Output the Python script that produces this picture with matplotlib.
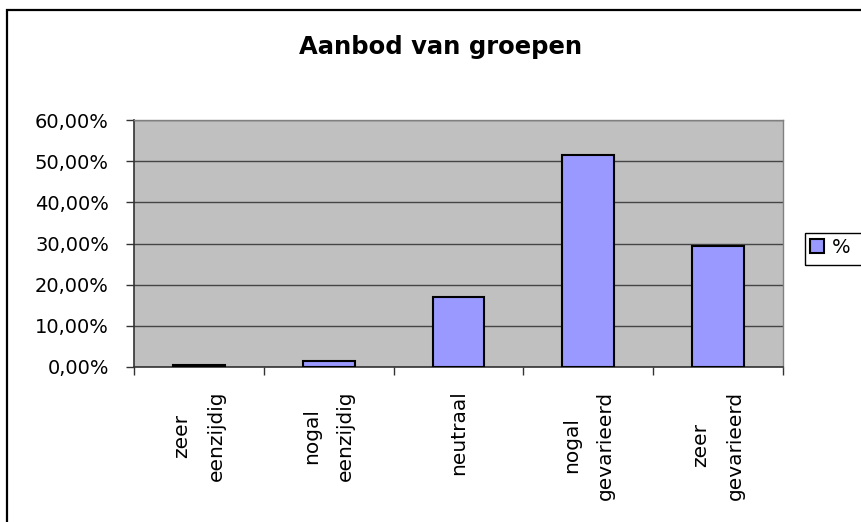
import numpy as np
import matplotlib
matplotlib.use("Agg")
import matplotlib.pyplot as plt
from matplotlib.patches import Rectangle
from matplotlib.ticker import FuncFormatter

# Gegevens
categorieen = ["zeer\neenzijdig", "nogal\neenzijdig", "neutraal",
               "nogal\ngevarieerd", "zeer\ngevarieerd"]
percentages = [0.4, 1.4, 17.0, 51.5, 29.5]
reeks_naam = "%"
titel = "Aanbod van groepen"

W, H = 862, 522


def procent(v, pos):
    return f"{v:.2f}%".replace(".", ",")


def main():
    fig = plt.figure(figsize=(W / 100, H / 100), dpi=100)
    ax = fig.add_axes([134 / W, 1 - 367 / H, (783 - 134) / W, (367 - 120) / H])
    ax.set_facecolor("#c0c0c0")

    x = np.arange(len(categorieen))
    ax.bar(x, percentages, width=0.4, color="#9999ff", edgecolor="black",
           linewidth=1.5, label=reeks_naam, zorder=3)

    ax.set_xlim(-0.5, len(categorieen) - 0.5)
    ax.set_ylim(0, 60)
    ax.set_yticks(np.arange(0, 61, 10))
    ax.yaxis.set_major_formatter(FuncFormatter(procent))
    ax.yaxis.grid(True, color="#454545", linewidth=1.0, zorder=1)
    ax.set_axisbelow(True)

    # grensstreepjes tussen de categorieën, labels in het midden
    ax.set_xticks(np.arange(-0.5, len(categorieen), 1.0))
    ax.set_xticklabels([])
    ax.set_xticks(x, minor=True)
    ax.set_xticklabels(categorieen, minor=True, rotation=90, ha="center",
                       va="top", multialignment="center", linespacing=2.0)
    ax.tick_params(axis="x", which="major", direction="out", length=6,
                   width=1, color="#333333")
    ax.tick_params(axis="x", which="minor", length=0, pad=17, labelsize=14.5)
    ax.tick_params(axis="y", direction="out", length=6, width=1,
                   color="#333333", pad=12, labelsize=14)

    for kant in ["top", "right"]:
        ax.spines[kant].set_color("#808080")
        ax.spines[kant].set_linewidth(1.0)
    for kant in ["left", "bottom"]:
        ax.spines[kant].set_color("#333333")
        ax.spines[kant].set_linewidth(1.2)

    fig.text(441 / W, 1 - 54 / H, titel, ha="center", va="baseline",
             fontsize=17.5, fontweight="bold")

    # legenda; het kader loopt over de rechterrand door
    leg = fig.legend(loc="upper left", bbox_to_anchor=(808 / W, 1 - 236 / H),
                     fontsize=14, frameon=False,
                     handlelength=0.7, handleheight=0.7, handletextpad=0.45,
                     borderpad=0.1, borderaxespad=0)
    fig.add_artist(Rectangle((805 / W, 1 - 265 / H), 100 / W, 32 / H,
                             transform=fig.transFigure, fill=False,
                             edgecolor="black", linewidth=1.0))

    # rand van de grafiek
    fig.add_artist(Rectangle((7 / W, -0.1), 1.2, 1 - 10 / H + 0.1,
                             transform=fig.transFigure, fill=False,
                             edgecolor="black", linewidth=1.6))

    fig.savefig("out.png", dpi=100)


if __name__ == "__main__":
    main()
